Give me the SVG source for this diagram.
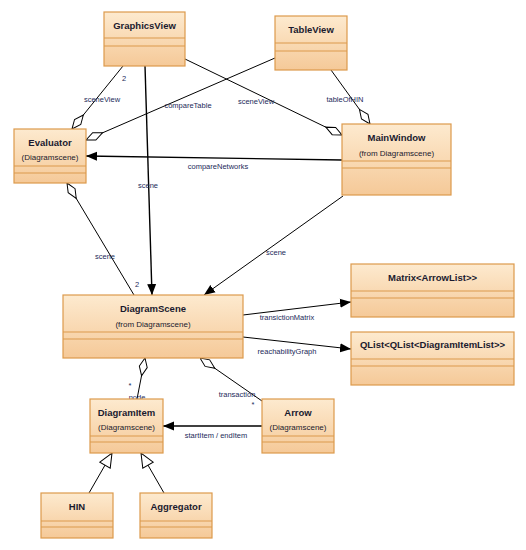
<svg xmlns="http://www.w3.org/2000/svg" width="526" height="550" viewBox="0 0 526 550">
<style>
.box{fill:url(#g);stroke:#dc9a4c;stroke-width:1.2}
.sep{stroke:#dc9a4c;stroke-width:1.2}
.nm{font-family:"Liberation Sans",Arial,sans-serif;font-size:9.5px;font-weight:bold;fill:#1a1a2e;text-anchor:middle}
.sub{font-family:"Liberation Sans",Arial,sans-serif;font-size:8px;fill:#1a1a2e;text-anchor:middle}
.lbl{font-family:"Liberation Sans",Arial,sans-serif;font-size:7.5px;fill:#1c2a5a;text-anchor:middle}
.c{stroke:#000;stroke-width:1;fill:none}
.ct{stroke:#000;stroke-width:1.4;fill:none}
</style>
<defs>
<linearGradient id="g" x1="0" y1="0" x2="0" y2="1">
<stop offset="0" stop-color="#fdeacf"/>
<stop offset="1" stop-color="#f5c998"/>
</linearGradient>
<marker id="dia" markerUnits="userSpaceOnUse" markerWidth="20" markerHeight="12" refX="0" refY="5" orient="auto" viewBox="0 0 20 10">
<path d="M0,5 L9,1 L18,5 L9,9 Z" fill="#fff" stroke="#000" stroke-width="1"/>
</marker>
<marker id="arr" markerUnits="userSpaceOnUse" markerWidth="12" markerHeight="10" refX="11" refY="5" orient="auto" viewBox="0 0 12 10">
<path d="M0,0.5 L11,5 L0,9.5 Z" fill="#000"/>
</marker>
<marker id="gen" markerUnits="userSpaceOnUse" markerWidth="16" markerHeight="14" refX="15" refY="7" orient="auto" viewBox="0 0 16 14">
<path d="M1,1 L15,7 L1,13 Z" fill="#fff" stroke="#000" stroke-width="1"/>
</marker>
</defs>
<rect width="526" height="550" fill="#fff"/>
<g id="connectors">
<line class="c" x1="72" y1="129" x2="123" y2="66" marker-start="url(#dia)"/>
<text class="lbl" x="102" y="102">sceneView</text>
<text class="lbl" x="124" y="81" fill="#203060">2</text>
<line class="c" x1="86" y1="140" x2="275" y2="58" marker-start="url(#dia)"/>
<text class="lbl" x="188" y="108">compareTable</text>
<line class="c" x1="342" y1="135" x2="185" y2="59" marker-start="url(#dia)"/>
<text class="lbl" x="256" y="104">sceneView</text>
<line class="c" x1="370" y1="124" x2="331" y2="70" marker-start="url(#dia)"/>
<text class="lbl" x="345" y="102">tableOfHIN</text>
<line class="ct" x1="342" y1="160" x2="86" y2="156" marker-end="url(#arr)"/>
<text class="lbl" x="218" y="169">compareNetworks</text>
<line class="ct" x1="145" y1="66" x2="152" y2="295" marker-end="url(#arr)"/>
<text class="lbl" x="148" y="188">scene</text>
<line class="c" x1="67" y1="183" x2="134" y2="295" marker-start="url(#dia)"/>
<text class="lbl" x="105" y="259">scene</text>
<text class="lbl" x="137" y="287">2</text>
<line class="c" x1="343" y1="196" x2="204" y2="295" marker-end="url(#arr)"/>
<text class="lbl" x="276" y="255">scene</text>
<line class="c" x1="243" y1="315" x2="351" y2="302" marker-end="url(#arr)"/>
<text class="lbl" x="287" y="320">transictionMatrix</text>
<line class="c" x1="243" y1="337" x2="351" y2="349" marker-end="url(#arr)"/>
<text class="lbl" x="287" y="354">reachabilityGraph</text>
<line class="c" x1="145" y1="358" x2="137" y2="399" marker-start="url(#dia)"/>
<text class="lbl" x="137" y="400">node</text>
<text class="lbl" x="130" y="388">*</text>
<line class="c" x1="200" y1="358" x2="262" y2="401" marker-start="url(#dia)"/>
<text class="lbl" x="237" y="397">transaction</text>
<text class="lbl" x="253" y="407">*</text>
<line class="ct" x1="262" y1="426" x2="163" y2="426" marker-end="url(#arr)"/>
<text class="lbl" x="216" y="438">startItem / endItem</text>
<line class="c" x1="89" y1="493" x2="112" y2="453" marker-end="url(#gen)"/>
<line class="c" x1="164" y1="493" x2="141" y2="453" marker-end="url(#gen)"/>
</g>
<g id="GraphicsView">
<rect class="box" x="104" y="12" width="81" height="54"/>
<line class="sep" x1="104" y1="38" x2="185" y2="38"/>
<line class="sep" x1="104" y1="46" x2="185" y2="46"/>
<text class="nm" x="144.5" y="29">GraphicsView</text>
</g>
<g id="TableView">
<rect class="box" x="275" y="16" width="72" height="54"/>
<line class="sep" x1="275" y1="43" x2="347" y2="43"/>
<line class="sep" x1="275" y1="51" x2="347" y2="51"/>
<text class="nm" x="311" y="33">TableView</text>
</g>
<g id="Evaluator">
<rect class="box" x="14" y="129" width="72" height="54"/>
<line class="sep" x1="14" y1="166" x2="86" y2="166"/>
<line class="sep" x1="14" y1="173" x2="86" y2="173"/>
<text class="nm" x="50" y="146">Evaluator</text>
<text class="sub" x="50" y="160">(Diagramscene)</text>
</g>
<g id="MainWindow">
<rect class="box" x="342" y="124" width="109" height="71"/>
<line class="sep" x1="342" y1="161" x2="451" y2="161"/>
<line class="sep" x1="342" y1="168" x2="451" y2="168"/>
<text class="nm" x="396.5" y="141">MainWindow</text>
<text class="sub" x="396.5" y="156">(from Diagramscene)</text>
</g>
<g id="DiagramScene">
<rect class="box" x="63" y="295" width="180" height="63"/>
<line class="sep" x1="63" y1="332" x2="243" y2="332"/>
<line class="sep" x1="63" y1="339" x2="243" y2="339"/>
<text class="nm" x="153" y="312">DiagramScene</text>
<text class="sub" x="153" y="327">(from Diagramscene)</text>
</g>
<g id="Matrix">
<rect class="box" x="351" y="264" width="163" height="53"/>
<line class="sep" x1="351" y1="291" x2="514" y2="291"/>
<line class="sep" x1="351" y1="298" x2="514" y2="298"/>
<text class="nm" x="432.5" y="281">Matrix&lt;ArrowList&gt;&gt;</text>
</g>
<g id="QList">
<rect class="box" x="351" y="332" width="163" height="53"/>
<line class="sep" x1="351" y1="359" x2="514" y2="359"/>
<line class="sep" x1="351" y1="366" x2="514" y2="366"/>
<text class="nm" x="432.5" y="348">QList&lt;QList&lt;DiagramItemList&gt;&gt;</text>
</g>
<g id="DiagramItem">
<rect class="box" x="90" y="399" width="73" height="54"/>
<line class="sep" x1="90" y1="436" x2="163" y2="436"/>
<line class="sep" x1="90" y1="442" x2="163" y2="442"/>
<text class="nm" x="126.5" y="416">DiagramItem</text>
<text class="sub" x="126.5" y="430">(Diagramscene)</text>
</g>
<g id="Arrow">
<rect class="box" x="262" y="399" width="72" height="54"/>
<line class="sep" x1="262" y1="436" x2="334" y2="436"/>
<line class="sep" x1="262" y1="442" x2="334" y2="442"/>
<text class="nm" x="298" y="416">Arrow</text>
<text class="sub" x="298" y="430">(Diagramscene)</text>
</g>
<g id="HIN">
<rect class="box" x="41" y="493" width="72" height="45"/>
<line class="sep" x1="41" y1="521" x2="113" y2="521"/>
<line class="sep" x1="41" y1="527" x2="113" y2="527"/>
<text class="nm" x="77" y="510">HIN</text>
</g>
<g id="Aggregator">
<rect class="box" x="140" y="493" width="72" height="45"/>
<line class="sep" x1="140" y1="521" x2="212" y2="521"/>
<line class="sep" x1="140" y1="527" x2="212" y2="527"/>
<text class="nm" x="176" y="510">Aggregator</text>
</g>
</svg>
